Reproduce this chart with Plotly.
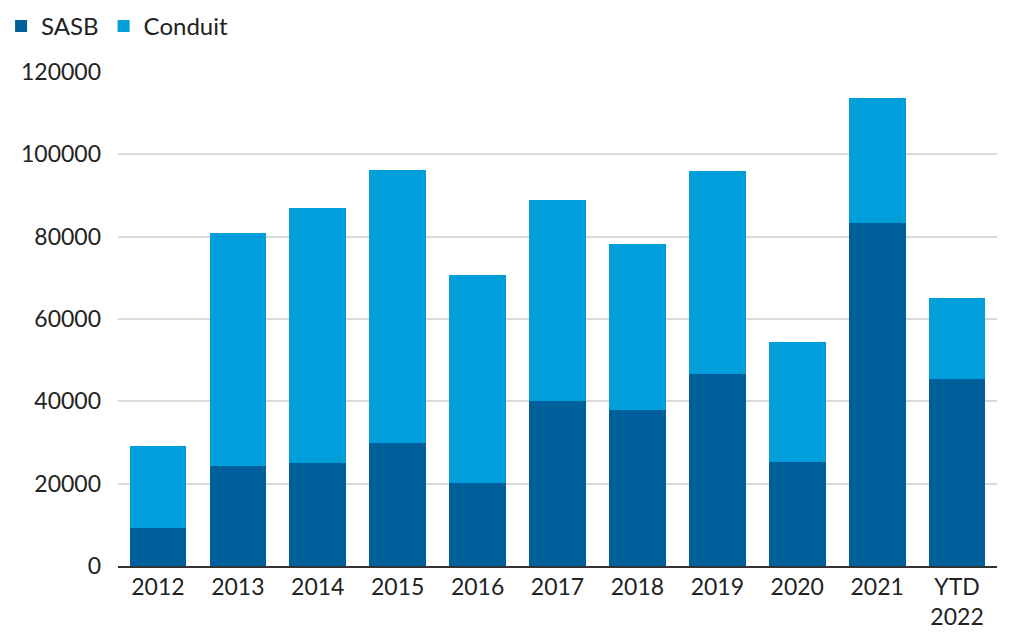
import plotly.graph_objects as go

categories = ["2012", "2013", "2014", "2015", "2016", "2017", "2018", "2019", "2020", "2021", "YTD<br>2022"]
sasb = [9200, 24300, 25000, 30000, 20200, 40100, 37900, 46600, 25300, 83300, 45400]
conduit = [19900, 56600, 62000, 66200, 50500, 48800, 40300, 49300, 29100, 30400, 19700]
y_ticks = [0, 20000, 40000, 60000, 80000, 100000, 120000]

SASB_COLOR = "#00609C"
CONDUIT_COLOR = "#009EDB"

fig = go.Figure()
fig.add_trace(go.Bar(x=categories, y=sasb, name="SASB", marker=dict(color=SASB_COLOR, line=dict(width=0))))
fig.add_trace(go.Bar(x=categories, y=conduit, name="Conduit", marker=dict(color=CONDUIT_COLOR, line=dict(width=0))))

fig.update_layout(
    barmode="stack",
    bargap=0.29,
    width=1032,
    height=636,
    margin=dict(l=110, r=43, t=64, b=78, autoexpand=False),
    paper_bgcolor="white",
    plot_bgcolor="white",
    font=dict(family="Lato, 'Noto Sans', sans-serif", color="#222222", size=23),
    legend=dict(orientation="h", x=-0.133, y=1.138, xref="paper", yref="paper",
                xanchor="left", yanchor="top", font=dict(size=24),
                traceorder="normal", itemwidth=30, itemsizing="constant"),
    showlegend=True,
)
fig.update_yaxes(range=[0, 120000], tickvals=y_ticks, ticktext=[str(v) for v in y_ticks],
                 showgrid=True, gridcolor="#d9d9d9", gridwidth=1.5, zeroline=False,
                 showline=False, ticks="", ticklabelstandoff=16)
fig.update_xaxes(showline=True, linecolor="#333333", linewidth=1.5, ticks="", showgrid=False,
                 ticklabelstandoff=0)

fig.write_html("out.html")
